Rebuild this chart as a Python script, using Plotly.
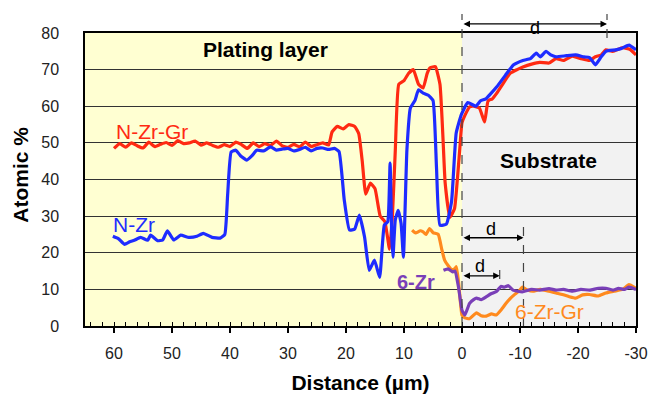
import plotly.graph_objects as go

# ---------------- data ----------------
nzrgr_x = [60, 59, 58, 57, 56, 55, 54, 53, 52, 51,
           50, 49, 48, 47, 46, 45, 44, 43, 42, 41,
           40, 39, 38, 37, 36, 35, 34, 33, 32, 31,
           30, 29, 28, 27, 26, 25, 24, 23, 22.4, 21.5,
           20.5, 19.5, 18.5, 17.8, 17.2, 16.6, 15.8, 15.0, 14.1, 13.3,
           12.5, 12.0, 11.5, 10.9, 10.0, 9.2, 8.4, 7.5, 6.7, 6.0,
           5.5, 4.6, 3.8, 3.3, 2.9, 2.1, 1.3, 0.8, 0.4, 0.0,
           -0.5, -1.3, -2.0, -3.0, -3.9, -4.5, -5.2, -6.0, -7.0, -8.3,
           -9.5, -10.5, -12.0, -13.4, -15.0, -16.2, -17.5, -19.0, -20.5, -22.0,
           -23.0, -24.0, -24.8, -26.0, -27.7, -29.0, -30.0]
nzrgr_y = [48.5, 49.8, 48.8, 50.0, 49.2, 48.6, 50.2, 49.0, 49.6, 50.1,
           49.3, 50.6, 49.8, 50.0, 50.5, 49.4, 50.0, 49.3, 48.8, 49.5,
           49.0, 50.2, 49.5, 48.5, 50.0, 49.0, 49.8, 49.3, 50.5, 49.2,
           48.8, 49.6, 48.9, 50.2, 49.0, 49.5, 50.0, 49.4, 53.0, 54.5,
           53.8, 55.0, 54.5, 52.5, 45.0, 36.0, 39.0, 37.5, 30.0, 28.5,
           21.0, 30.0, 48.0, 66.0, 67.0, 69.0, 70.0, 66.0, 65.0, 69.0,
           70.5, 70.8, 66.0, 52.0, 39.0, 29.7, 32.0, 40.0, 48.0, 55.5,
           57.5, 59.8, 60.0, 59.5, 55.7, 61.5, 62.0, 63.6, 66.0, 69.0,
           70.0, 70.7, 71.5, 72.0, 71.8, 73.0, 72.5, 73.7, 73.0, 72.5,
           73.5, 74.0, 75.4, 75.0, 76.0, 75.5, 74.0]

nzr_x = [60.2, 59.2, 58.2, 57.3, 56.5, 55.4, 54.2, 53.7, 52.5, 51.6,
         50.8, 49.7, 48.5, 47.1, 45.7, 44.6, 43.1, 41.7, 40.9, 40.4,
         39.8, 39.0, 38.2, 37.1, 36.2, 35.4, 34.2, 33.0, 32.0, 31.0,
         30, 29, 28, 27, 26, 25, 24, 23, 22, 21.2,
         20.3, 19.4, 18.5, 17.7, 16.8, 16.0, 15.1, 14.2, 13.4, 12.8,
         12.4, 12.1, 11.9, 11.5, 11.0, 10.5, 10.1, 9.5, 8.9, 8.1,
         7.5, 6.7, 5.8, 5.0, 4.4, 3.8, 2.7, 1.8, 1.0, 0.1,
         -1.0, -2.4, -3.2, -4.1, -5.0, -6.0, -7.5, -8.9, -10.5, -11.8,
         -12.8, -13.5, -14.5, -15.3, -16.2, -18.0, -19.6, -21.0, -22.0, -23.0,
         -24.0, -24.8, -26.5, -27.5, -28.8, -30.0]
nzr_y = [24.5, 23.8, 22.3, 23.0, 23.4, 24.2, 23.4, 24.8, 23.3, 23.5,
         26.0, 23.5, 24.8, 24.2, 24.5, 25.3, 24.2, 24.0, 25.0, 36.0,
         47.5, 48.0, 46.5, 45.3, 46.5, 48.0, 47.8, 48.9, 48.0, 48.3,
         48.5, 47.8, 48.2, 48.8, 47.8, 48.5, 48.6, 48.2, 48.5, 47.6,
         34.4, 26.2, 26.5, 30.3, 24.3, 15.2, 18.0, 13.3, 27.5, 28.5,
         44.5, 24.0, 18.8, 29.0, 31.6, 28.0, 18.8, 48.0, 59.5, 61.6,
         64.5, 63.6, 63.0, 61.6, 43.4, 27.5, 27.8, 34.0, 52.7, 57.8,
         61.0, 60.0, 61.5, 62.0, 63.5, 65.3, 68.5, 71.3, 72.5, 73.0,
         74.5, 73.5, 75.0, 74.0, 73.5, 73.8, 74.0, 73.5, 73.3, 71.3,
         73.5, 75.0, 75.4, 75.8, 76.7, 75.4]

zrgr6_x = [8.6, 8.0, 7.2, 6.7, 6.2, 5.6, 5.0, 4.1, 3.5, 3.0,
           2.4, 1.8, 1.3, 0.97, 0.6, 0.3, 0.0, -0.5, -1.3, -2.5,
           -3.3, -4.2, -5.1, -5.9, -6.8, -7.6, -8.3, -9.0, -9.8, -10.4,
           -11.3, -12.2, -13.5, -15.0, -16.2, -17.3, -18.5, -19.6, -20.8, -22.0,
           -23.5, -24.8, -26.2, -27.7, -28.8, -30.0]
zrgr6_y = [26.2, 25.4, 26.0, 25.7, 25.0, 26.6, 25.5, 25.0, 21.0, 18.0,
           16.5, 15.4, 15.6, 16.2, 12.0, 7.0, 3.0, 2.2, 2.0, 3.6,
           2.8, 2.7, 3.3, 3.0, 4.5, 6.2, 7.5, 8.5, 9.5, 10.6,
           9.8, 9.5, 10.0, 9.5, 9.0, 8.6, 8.0, 7.6, 8.5, 8.6,
           8.2, 9.0, 9.5, 10.0, 11.3, 10.3]

zr6_x = [3.2, 2.4, 1.6, 1.2, 0.6, 0.0, -0.5, -1.3, -2.0, -2.5,
         -3.3, -4.2, -5.0, -6.0, -6.7, -7.3, -8.0, -8.8, -10.4, -12.0,
         -13.4, -15.0, -16.2, -17.5, -19.0, -20.5, -22.0, -23.5, -24.8, -26.0,
         -27.0, -28.0, -28.8, -30.0]
zr6_y = [15.2, 15.6, 14.8, 15.0, 10.6, 4.3, 3.0, 6.2, 7.2, 7.6,
         7.2, 8.0, 8.8, 9.5, 10.8, 10.6, 11.0, 9.8, 9.3, 10.0,
         9.8, 10.2, 9.8, 10.0, 9.5, 10.0, 9.8, 10.3, 10.3, 9.8,
         10.3, 10.0, 10.6, 10.0]

x_ticks = [60, 50, 40, 30, 20, 10, 0, -10, -20, -30]
x_tick_labels = ["60", "50", "40", "30", "20", "10", "0", "-10", "-20", "-30"]
y_ticks = [0, 10, 20, 30, 40, 50, 60, 70, 80]

# d-marker extents (interface at 0)
d_top_end = -25.0
d_mid_end = -10.6
d_low_end = -6.5

RED = "#FF2A12"
BLUE = "#1E2CFF"
ORANGE = "#FF8A1E"
PURPLE = "#7A3FB8"
FONT = "Liberation Sans, Arial, sans-serif"

fig = go.Figure()
for xs, ys, col in [(nzrgr_x, nzrgr_y, RED), (nzr_x, nzr_y, BLUE),
                    (zrgr6_x, zrgr6_y, ORANGE), (zr6_x, zr6_y, PURPLE)]:
    fig.add_trace(go.Scatter(x=xs, y=ys, mode="lines",
                             line=dict(color=col, width=3.2, shape="spline", smoothing=0.4),
                             showlegend=False, hoverinfo="skip"))

# backgrounds
fig.add_shape(type="rect", xref="x", yref="y", x0=65, x1=0, y0=0, y1=80,
              fillcolor="#FFFFD2", line_width=0, layer="below")
fig.add_shape(type="rect", xref="x", yref="y", x0=0, x1=-30, y0=0, y1=80,
              fillcolor="#F2F2F2", line_width=0, layer="below")

dash = dict(color="#444", width=1.2, dash="dash")
fig.add_shape(type="line", xref="x", yref="paper", x0=0, x1=0, y0=0, y1=1.065, line=dash)
fig.add_shape(type="line", xref="x", yref="paper", x0=d_top_end, x1=d_top_end,
              y0=0.983, y1=1.065, line=dash)
fig.add_shape(type="line", xref="x", yref="y", x0=d_mid_end, x1=d_mid_end,
              y0=0, y1=27.5, line=dash)
fig.add_shape(type="line", xref="x", yref="y", x0=d_low_end, x1=d_low_end,
              y0=12.8, y1=17.3, line=dash)

arrow_kw = dict(text="", showarrow=True, arrowhead=2, startarrowhead=2,
                arrowside="end+start", arrowsize=1, arrowwidth=1.3,
                arrowcolor="black", standoff=0, startstandoff=0)
# top arrow (above the plot area)
fig.add_annotation(x=d_top_end, y=1.031, xref="x", yref="paper", axref="x", ax=0,
                   ayref="pixel", ay=0, **arrow_kw)
for xe, ya in [(d_mid_end, 24.1), (d_low_end, 13.7)]:
    fig.add_annotation(x=xe, y=ya, ax=0, ay=ya, xref="x", yref="y", axref="x", ayref="y",
                       **arrow_kw)

def label(x, y, text, color="black", size=21, bold=False, yref="y"):
    t = f"<b>{text}</b>" if bold else text
    fig.add_annotation(x=x, y=y, xref="x", yref=yref, text=t, showarrow=False,
                       font=dict(family=FONT, size=size, color=color))

label(d_top_end / 2, 1.058, "d", size=18, yref="paper")
label(-5.0, 26.6, "d", size=18)
label(-3.1, 16.5, "d", size=18)
label(33.8, 75.4, "Plating layer", bold=True)
label(-14.9, 45.3, "Substrate", bold=True)
label(53.5, 53.2, "N-Zr-Gr", color=RED)
label(56.6, 27.8, "N-Zr", color=BLUE)
label(8.0, 12.0, "6-Zr", color=PURPLE, bold=True, size=20)
label(-15.0, 4.0, "6-Zr-Gr", color=ORANGE)

fig.add_annotation(x=-0.117, y=0.515, xref="paper", yref="paper", text="<b>Atomic %</b>",
                   xanchor="center", yanchor="middle",
                   textangle=-90, showarrow=False, font=dict(family=FONT, size=21, color="black"))

fig.update_layout(
    width=650, height=399,
    margin=dict(l=85, r=14, t=33, b=73, autoexpand=False),
    paper_bgcolor="white", plot_bgcolor="white",
    font=dict(family=FONT, color="#222"),
    xaxis=dict(range=[65, -30], tickvals=x_ticks, ticktext=x_tick_labels, automargin=False,
               ticks="outside", ticklen=5, tickwidth=1.5, tickcolor="black",
               ticklabeloverflow="allow", ticklabelstandoff=7,
               minor=dict(dtick=2, ticks="inside", ticklen=4, tickwidth=1.2, tickcolor="black", showgrid=False),
               showgrid=False, zeroline=False,
               showline=True, linecolor="black", linewidth=1.5, mirror=True,
               tickfont=dict(family=FONT, size=16, color="#222"),
               title=dict(text="<b>Distance (µm)</b>", font=dict(family=FONT, size=21, color="black"),
                          standoff=14)),
    yaxis=dict(range=[0, 80], tickvals=y_ticks, ticks="", showgrid=True, automargin=False,
               gridcolor="#333", gridwidth=1.3, zeroline=False,
               showline=True, linecolor="black", linewidth=1.5, mirror=True,
               ticklabelstandoff=21,
               tickfont=dict(family=FONT, size=16, color="#222")),
)
fig.update_xaxes(tickprefix="<b>", ticksuffix="</b>")
fig.update_yaxes(tickprefix="<b>", ticksuffix="</b>")

fig.write_html("out.html")
